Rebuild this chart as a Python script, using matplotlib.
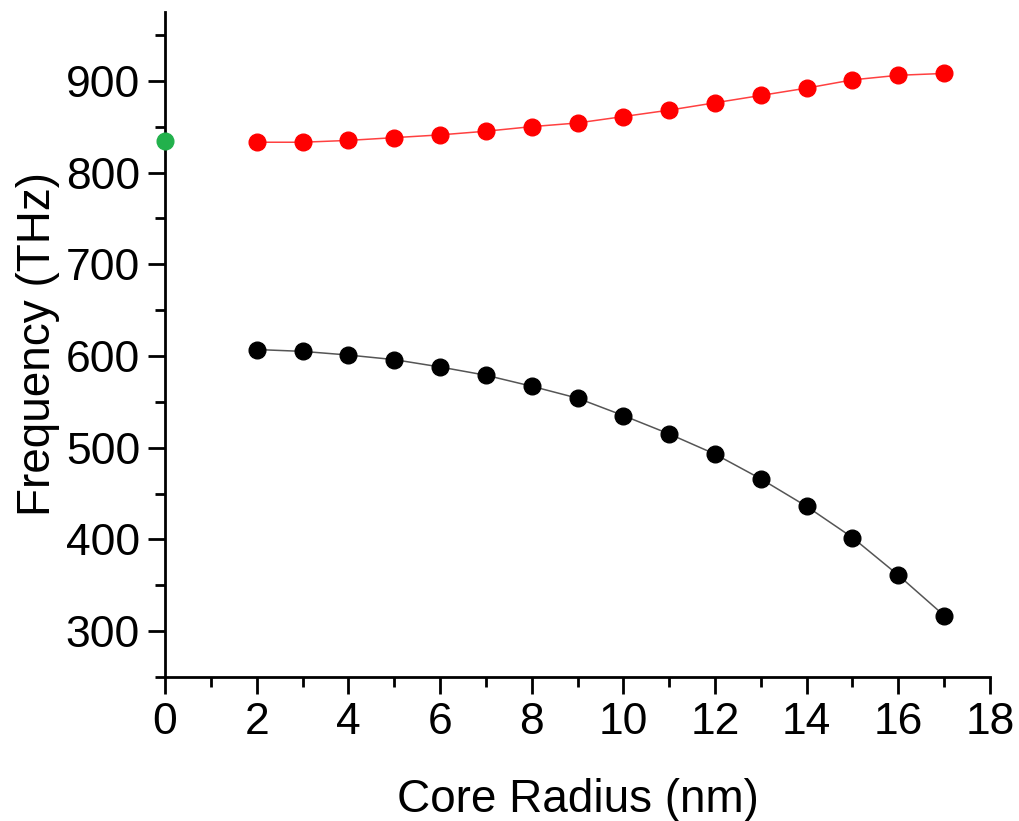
import numpy as np
import matplotlib.pyplot as plt
from matplotlib.ticker import MultipleLocator

plt.rcParams['font.family'] = ['Liberation Sans', 'DejaVu Sans']

# Data
radius = [2, 3, 4, 5, 6, 7, 8, 9, 10, 11, 12, 13, 14, 15, 16, 17]
upper_freq = [833, 833, 835, 838, 841, 845, 850, 854, 861, 868, 876, 884, 892, 901, 906, 908]
lower_freq = [607, 605, 601, 596, 588, 579, 567, 554, 535, 515, 493, 466, 436, 402, 361, 317]
bulk_radius = [0]
bulk_freq = [834]

fig = plt.figure(figsize=(10.19, 8.21), dpi=100)
ax = fig.add_axes([0.162, 0.1754, 0.8095, 0.81])

ax.plot(radius, upper_freq, '-', color='#ff4040', lw=1.1)
ax.plot(radius, upper_freq, 'o', color='red', ms=12, mec='red')
ax.plot(radius, lower_freq, '-', color='#555555', lw=1.1)
ax.plot(radius, lower_freq, 'o', color='black', ms=12)
ax.plot(bulk_radius, bulk_freq, 'o', color='#22b14c', ms=12, clip_on=False, zorder=5)

ax.set_xlim(0, 18)
ax.set_ylim(250, 975)
ax.xaxis.set_major_locator(MultipleLocator(2))
ax.xaxis.set_minor_locator(MultipleLocator(1))
ax.yaxis.set_major_locator(MultipleLocator(100))
ax.yaxis.set_minor_locator(MultipleLocator(50))
ax.set_yticks(np.arange(300, 901, 100))

ax.spines['top'].set_visible(False)
ax.spines['right'].set_visible(False)
for s in ('left', 'bottom'):
    ax.spines[s].set_linewidth(2)

ax.tick_params(which='major', direction='out', length=12, width=2, labelsize=32, pad=6)
ax.tick_params(which='minor', direction='out', length=7, width=2)

ax.set_xlabel('Core Radius (nm)', fontsize=33, labelpad=25)
ax.set_ylabel('Frequency (THz)', fontsize=33, labelpad=4)

fig.savefig('out.png', dpi=100)
